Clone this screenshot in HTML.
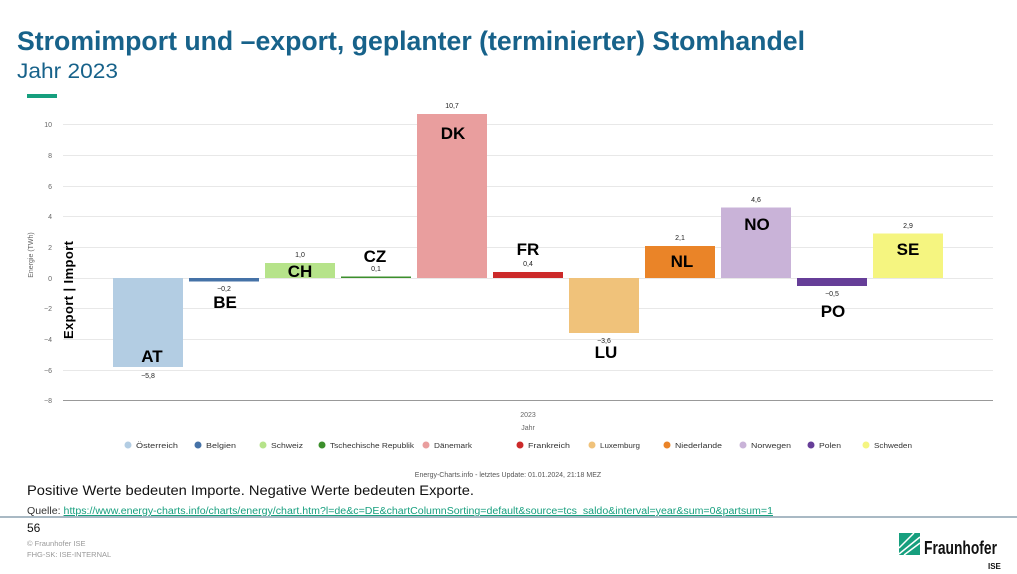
<!DOCTYPE html>
<html><head><meta charset="utf-8"><style>
html,body{margin:0;padding:0;background:#fff;}
svg{display:block;font-family:"Liberation Sans",sans-serif;}
</style></head><body>
<svg width="1017" height="574" viewBox="0 0 1017 574" xmlns="http://www.w3.org/2000/svg">
<text x="17" y="50" font-size="27" font-weight="bold" fill="#17628a" textLength="788" lengthAdjust="spacingAndGlyphs">Stromimport und –export, geplanter (terminierter) Stomhandel</text>
<text x="17" y="78" font-size="21" fill="#17628a" textLength="101" lengthAdjust="spacingAndGlyphs">Jahr 2023</text>
<rect x="27" y="94" width="30" height="4" fill="#169f7e"/>
<g stroke="#e8e8e8" stroke-width="1">
<line x1="63" x2="993" y1="124.5" y2="124.5"/><line x1="63" x2="993" y1="155.5" y2="155.5"/><line x1="63" x2="993" y1="186.5" y2="186.5"/><line x1="63" x2="993" y1="216.5" y2="216.5"/><line x1="63" x2="993" y1="247.5" y2="247.5"/><line x1="63" x2="993" y1="278.5" y2="278.5"/><line x1="63" x2="993" y1="308.5" y2="308.5"/><line x1="63" x2="993" y1="339.5" y2="339.5"/><line x1="63" x2="993" y1="370.5" y2="370.5"/>
</g>
<line x1="63" x2="993" y1="400.5" y2="400.5" stroke="#999"/>
<g font-size="7" fill="#666" text-anchor="end">
<text x="52" y="127">10</text><text x="52" y="158">8</text><text x="52" y="189">6</text><text x="52" y="219">4</text><text x="52" y="250">2</text><text x="52" y="281">0</text><text x="52" y="311">−2</text><text x="52" y="342">−4</text><text x="52" y="373">−6</text><text x="52" y="403">−8</text>
</g>
<text transform="translate(33,255) rotate(-90)" font-size="7" fill="#666" text-anchor="middle">Energie (TWh)</text>
<text transform="translate(73,290) rotate(-90)" font-size="13" font-weight="bold" fill="#000" text-anchor="middle" textLength="98" lengthAdjust="spacing">Export  |  Import</text>
<rect x="113" y="278" width="70" height="89" fill="#b3cde3"/>
<rect x="189" y="278" width="70" height="3.5" fill="#4572a7"/>
<rect x="265" y="263" width="70" height="15" fill="#b6e38a"/>
<rect x="341" y="276.5" width="70" height="1.5" fill="#3c8f2c"/>
<rect x="417" y="114" width="70" height="164" fill="#e99e9e"/>
<rect x="493" y="272" width="70" height="6" fill="#cc2a2a"/>
<rect x="569" y="278" width="70" height="55" fill="#f0c27a"/>
<rect x="645" y="246" width="70" height="32" fill="#ea8428"/>
<rect x="721" y="207.5" width="70" height="70.5" fill="#c9b3d8"/>
<rect x="797" y="278" width="70" height="8" fill="#663e98"/>
<rect x="873" y="233.5" width="70" height="44.5" fill="#f5f580"/>
<g font-size="7" fill="#222" text-anchor="middle">
<text x="148" y="378">−5,8</text><text x="224" y="291">−0,2</text><text x="300" y="257">1,0</text><text x="376" y="271">0,1</text><text x="452" y="108">10,7</text><text x="528" y="266">0,4</text><text x="604" y="343">−3,6</text><text x="680" y="240">2,1</text><text x="756" y="202">4,6</text><text x="832" y="296">−0,5</text><text x="908" y="228">2,9</text>
</g>
<g font-size="17" font-weight="bold" fill="#000" text-anchor="middle">
<text x="152" y="362">AT</text><text x="225" y="308">BE</text><text x="300" y="277">CH</text><text x="375" y="262">CZ</text><text x="453" y="139">DK</text><text x="528" y="255">FR</text><text x="606" y="358">LU</text><text x="682" y="267">NL</text><text x="757" y="230">NO</text><text x="833" y="317">PO</text><text x="908" y="255">SE</text>
</g>
<text x="528" y="417" font-size="7" fill="#666" text-anchor="middle">2023</text>
<text x="528" y="430" font-size="7" fill="#666" text-anchor="middle">Jahr</text>
<g font-size="7" fill="#333">
<circle cx="128" cy="445" r="3.5" fill="#b3cde3"/><text x="136" y="448" textLength="42" lengthAdjust="spacingAndGlyphs">Österreich</text>
<circle cx="198" cy="445" r="3.5" fill="#4572a7"/><text x="206" y="448" textLength="30" lengthAdjust="spacingAndGlyphs">Belgien</text>
<circle cx="263" cy="445" r="3.5" fill="#b6e38a"/><text x="271" y="448" textLength="32" lengthAdjust="spacingAndGlyphs">Schweiz</text>
<circle cx="322" cy="445" r="3.5" fill="#3c8f2c"/><text x="330" y="448" textLength="84" lengthAdjust="spacingAndGlyphs">Tschechische Republik</text>
<circle cx="426" cy="445" r="3.5" fill="#e99e9e"/><text x="434" y="448" textLength="38" lengthAdjust="spacingAndGlyphs">Dänemark</text>
<circle cx="520" cy="445" r="3.5" fill="#cc2a2a"/><text x="528" y="448" textLength="42" lengthAdjust="spacingAndGlyphs">Frankreich</text>
<circle cx="592" cy="445" r="3.5" fill="#f0c27a"/><text x="600" y="448" textLength="40" lengthAdjust="spacingAndGlyphs">Luxemburg</text>
<circle cx="667" cy="445" r="3.5" fill="#ea8428"/><text x="675" y="448" textLength="47" lengthAdjust="spacingAndGlyphs">Niederlande</text>
<circle cx="743" cy="445" r="3.5" fill="#c9b3d8"/><text x="751" y="448" textLength="40" lengthAdjust="spacingAndGlyphs">Norwegen</text>
<circle cx="811" cy="445" r="3.5" fill="#663e98"/><text x="819" y="448" textLength="22" lengthAdjust="spacingAndGlyphs">Polen</text>
<circle cx="866" cy="445" r="3.5" fill="#f5f580"/><text x="874" y="448" textLength="38" lengthAdjust="spacingAndGlyphs">Schweden</text>
</g>
<text x="508" y="477" font-size="7" fill="#555" text-anchor="middle">Energy-Charts.info - letztes Update: 01.01.2024, 21:18 MEZ</text>
<text x="27" y="495" font-size="14" fill="#111" textLength="447" lengthAdjust="spacingAndGlyphs">Positive Werte bedeuten Importe. Negative Werte bedeuten Exporte.</text>
<text x="27" y="514" font-size="10" fill="#333" textLength="746" lengthAdjust="spacingAndGlyphs">Quelle: <tspan fill="#169f7e" text-decoration="underline">https://www.energy-charts.info/charts/energy/chart.htm?l=de&amp;c=DE&amp;chartColumnSorting=default&amp;source=tcs_saldo&amp;interval=year&amp;sum=0&amp;partsum=1</tspan></text>
<rect x="0" y="516" width="1017" height="2" fill="#a9b9c4"/>
<text x="27" y="532" font-size="12" fill="#111">56</text>
<text x="27" y="546" font-size="7.5" fill="#999">© Fraunhofer ISE</text>
<text x="27" y="557" font-size="7.5" fill="#999">FHG-SK: ISE-INTERNAL</text>
<g fill="#169f7e"><rect x="899" y="533" width="21" height="22"/></g>
<g stroke="#fff" stroke-width="1.5"><line x1="899" y1="548" x2="914" y2="533"/><line x1="899" y1="554" x2="920" y2="537"/><line x1="904" y1="555" x2="920" y2="543"/></g>
<text x="924" y="554" font-size="18" font-weight="bold" fill="#111" textLength="73" lengthAdjust="spacingAndGlyphs">Fraunhofer</text>
<text x="988" y="569" font-size="8" font-weight="bold" fill="#111">ISE</text>
</svg>
</body></html>
